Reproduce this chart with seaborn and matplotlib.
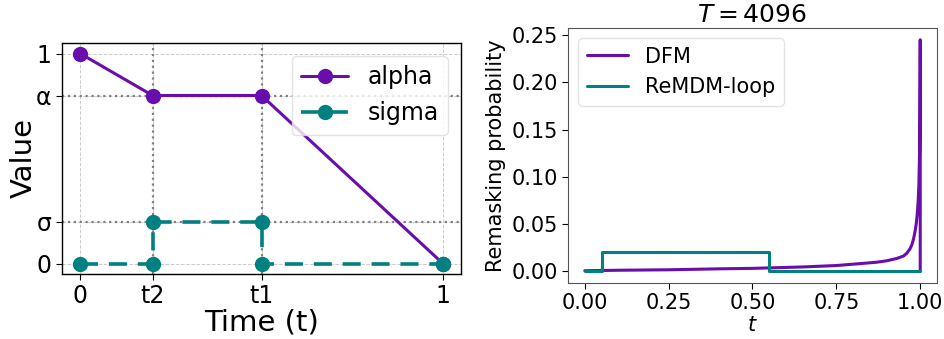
import numpy as np
import pandas as pd
import matplotlib
matplotlib.use('Agg')
import matplotlib.pyplot as plt
import seaborn as sns

# left panel: schedule sketch
alpha_t = [0.0, 0.2, 0.5, 1.0]
alpha_v = [1.0, 0.8, 0.8, 0.0]
sigma_t = [0.0, 0.2, 0.2, 0.5, 0.5, 1.0]
sigma_v = [0.0, 0.0, 0.2, 0.2, 0.0, 0.0]
x_ticks = [0.0, 0.2, 0.5, 1.0]
x_labels = ['0', 't2', 't1', '1']
y_ticks = [0.0, 0.2, 0.8, 1.0]
y_labels = ['0', 'σ', 'α', '1']

# right panel: remasking probability, T = 4096
dfm_t = [0.0, 0.1, 0.25, 0.4, 0.5, 0.55, 0.65, 0.75, 0.82, 0.87, 0.9, 0.93,
         0.95, 0.96, 0.97, 0.975, 0.98, 0.985, 0.988, 0.991, 0.994, 0.996,
         0.998, 0.999, 0.9997, 1.0, 1.0]
dfm_p = [0.0005, 0.001, 0.0015, 0.0025, 0.003, 0.0035, 0.0045, 0.006, 0.008,
         0.0095, 0.011, 0.0135, 0.016, 0.019, 0.024, 0.028, 0.034, 0.043,
         0.050, 0.060, 0.075, 0.092, 0.125, 0.16, 0.21, 0.245, 0.0]
loop_t = [0.0, 0.05, 0.05, 0.55, 0.55, 1.0]
loop_p = [0.0, 0.0, 0.02, 0.02, 0.0, 0.0]

PURPLE = '#6a0dad'
TEAL = '#008080'

sns.set_style('white')
plt.rcParams['font.family'] = ['DejaVu Sans']
plt.rcParams['text.color'] = 'black'
plt.rcParams['axes.labelcolor'] = 'black'
plt.rcParams['xtick.color'] = 'black'
plt.rcParams['ytick.color'] = 'black'
plt.rcParams['mathtext.fontset'] = 'dejavusans'

fig = plt.figure(figsize=(9.45, 3.39), dpi=100)
ax1 = fig.add_axes([62 / 945, 1 - 274 / 339, 399 / 945, 231 / 339])
ax2 = fig.add_axes([568 / 945, 1 - 283 / 339, 369 / 945, 255 / 339])

# left
df_a = pd.DataFrame({'t': alpha_t, 'v': alpha_v})
df_s = pd.DataFrame({'t': sigma_t, 'v': sigma_v})
ax1.grid(True, color='#cccccc', linestyle='--', linewidth=0.7)
for xv in [0.2, 0.5]:
    ax1.axvline(xv, color='gray', linestyle=':', linewidth=1.6, zorder=1)
for yv in [0.2, 0.8]:
    ax1.axhline(yv, color='gray', linestyle=':', linewidth=1.6, zorder=1)
sns.lineplot(data=df_a, x='t', y='v', ax=ax1, sort=False, estimator=None,
             color=PURPLE, linewidth=2.2, marker='o', markersize=11,
             markeredgewidth=0, label='alpha', zorder=3)
sns.lineplot(data=df_s, x='t', y='v', ax=ax1, sort=False, estimator=None,
             color=TEAL, linewidth=2.6, linestyle='--', marker='o', markersize=11,
             markeredgewidth=0, label='sigma', zorder=4)
ax1.lines[-1].set_dashes([5, 3])
ax1.set_xlim(-0.05, 1.05)
ax1.set_ylim(-0.05, 1.05)
ax1.set_xticks(x_ticks)
ax1.set_xticklabels(x_labels, fontsize=17)
ax1.set_yticks(y_ticks)
ax1.set_yticklabels(y_labels, fontsize=17)
ax1.tick_params(axis='both', length=4, width=0.8, direction='out', bottom=True, left=True)
ax1.set_xlabel('Time (t)', fontsize=21, labelpad=0)
ax1.set_ylabel('Value', fontsize=21, labelpad=-1)
for s in ax1.spines.values():
    s.set_edgecolor('black')
    s.set_linewidth(1.0)
leg = ax1.legend(loc='upper right', fontsize=17, markerscale=1.0, handlelength=2.0,
                 framealpha=0.8, borderaxespad=0.55)
leg.get_frame().set_edgecolor('#dddddd')
for h in leg.legend_handles:
    if h.get_label() == 'sigma':
        h.set_dashes([5, 3])

# right
df_d = pd.DataFrame({'t': dfm_t, 'p': dfm_p})
df_l = pd.DataFrame({'t': loop_t, 'p': loop_p})
sns.lineplot(data=df_d, x='t', y='p', ax=ax2, sort=False, estimator=None,
             color=PURPLE, linewidth=2.2, label='DFM')
sns.lineplot(data=df_l, x='t', y='p', ax=ax2, sort=False, estimator=None,
             color=TEAL, linewidth=2.2, label='ReMDM-loop')
ax2.set_xlim(-0.05, 1.05)
ax2.set_ylim(-0.0125, 0.2575)
ax2.set_xticks([0.0, 0.25, 0.5, 0.75, 1.0])
ax2.set_yticks([0.0, 0.05, 0.10, 0.15, 0.20, 0.25])
ax2.xaxis.set_major_formatter(matplotlib.ticker.FormatStrFormatter('%.2f'))
ax2.yaxis.set_major_formatter(matplotlib.ticker.FormatStrFormatter('%.2f'))
ax2.tick_params(axis='both', labelsize=15, length=4, width=0.8, bottom=True, left=True)
ax2.set_xlabel('$t$', fontsize=15, labelpad=1)
ax2.set_ylabel('Remasking probability', fontsize=15, labelpad=4)
ax2.set_title('$T = 4096$', fontsize=18, pad=4)
for s in ax2.spines.values():
    s.set_edgecolor('#555555')
    s.set_linewidth(0.8)
leg2 = ax2.legend(loc='upper left', fontsize=15, handlelength=2.0)
leg2.get_frame().set_edgecolor('#dddddd')

fig.savefig('out.png', dpi=100)
